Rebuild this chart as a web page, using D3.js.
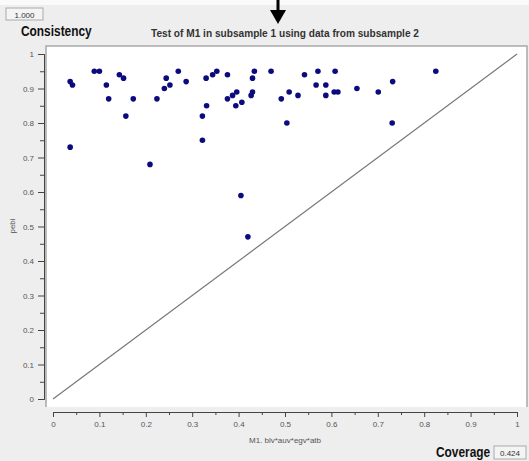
<!DOCTYPE html>
<html>
<head>
<meta charset="utf-8">
<script src="https://cdn.jsdelivr.net/npm/d3@7/dist/d3.min.js"></script>
<style>
  body { margin: 0; background: #eeeeee; }
  svg { display: block; font-family: "Liberation Sans", Arial, sans-serif; }
  .axis text { font-size: 8px; fill: #555; }
  .axis path, .axis line { stroke: #444; }
</style>
</head>
<body>
<svg id="chart" width="529" height="461"></svg>
<script>
// coverage / consistency pairs
var coverage = [0.037, 0.042, 0.037, 0.089, 0.100, 0.115, 0.120, 0.143, 0.152, 0.157,
                0.173, 0.209, 0.224, 0.240, 0.244, 0.252, 0.270, 0.287, 0.322, 0.322,
                0.330, 0.331, 0.344, 0.353, 0.376, 0.376, 0.387, 0.394, 0.396, 0.405,
                0.407, 0.420, 0.427, 0.430, 0.430, 0.434, 0.470, 0.492, 0.504, 0.509,
                0.528, 0.542, 0.567, 0.571, 0.588, 0.588, 0.606, 0.608, 0.614, 0.655,
                0.701, 0.731, 0.732, 0.825];
var consistency = [0.92, 0.91, 0.73, 0.95, 0.95, 0.91, 0.87, 0.94, 0.93, 0.82,
                   0.87, 0.68, 0.87, 0.90, 0.93, 0.91, 0.95, 0.92, 0.82, 0.75,
                   0.93, 0.85, 0.94, 0.95, 0.94, 0.87, 0.88, 0.85, 0.89, 0.59,
                   0.86, 0.47, 0.88, 0.89, 0.93, 0.95, 0.95, 0.87, 0.80, 0.89,
                   0.88, 0.94, 0.91, 0.95, 0.91, 0.88, 0.89, 0.95, 0.89, 0.90,
                   0.89, 0.80, 0.92, 0.95];
var majorTicks = [0, 0.1, 0.2, 0.3, 0.4, 0.5, 0.6, 0.7, 0.8, 0.9, 1];
var minorTicks = [0.05, 0.15, 0.25, 0.35, 0.45, 0.55, 0.65, 0.75, 0.85, 0.95];
var tickLabels = ["0", "0.1", "0.2", "0.3", "0.4", "0.5", "0.6", "0.7", "0.8", "0.9", "1"];

var title = "Test of M1 in subsample 1 using data from subsample 2";
var xLabel = "M1. blv*auv*egv*atb";
var yLabel = "pebi";
var consVal = "1.000", covVal = "0.424";

var svg = d3.select("#chart");

var x = d3.scaleLinear().domain([0, 1]).range([53, 517]),
    y = d3.scaleLinear().domain([0, 1]).range([399, 54]);

var labelOf = function(d) { return tickLabels[majorTicks.indexOf(d)]; };

// top white strip
svg.append("rect").attr("x", 0).attr("y", 0).attr("width", 529).attr("height", 5).attr("fill", "#fafafa");

// plot panel
svg.append("rect")
    .attr("x", 46).attr("y", 46).attr("width", 481).attr("height", 361)
    .attr("fill", "#fff");
svg.append("path")
    .attr("d", "M46,407V46H527V407")
    .attr("fill", "none").attr("stroke", "#a8a8a8").attr("stroke-width", 1.5);

// y axis
svg.append("g")
    .attr("class", "axis")
    .attr("transform", "translate(44,0)")
    .call(d3.axisLeft(y).tickValues(majorTicks).tickSize(6).tickPadding(4).tickFormat(labelOf));
svg.append("g")
    .attr("class", "axis")
    .attr("transform", "translate(44,0)")
    .call(d3.axisLeft(y).tickValues(minorTicks).tickSize(4).tickSizeOuter(0).tickFormat(""));

// x axis
svg.append("g")
    .attr("class", "axis")
    .attr("transform", "translate(0,412)")
    .call(d3.axisBottom(x).tickValues(majorTicks).tickSize(5).tickPadding(4).tickFormat(labelOf));
svg.append("g")
    .attr("class", "axis")
    .attr("transform", "translate(0,412)")
    .call(d3.axisBottom(x).tickValues(minorTicks).tickSize(3).tickSizeOuter(0).tickFormat(""));

// diagonal
svg.append("line")
    .attr("x1", x(0)).attr("y1", y(0))
    .attr("x2", x(1)).attr("y2", y(1))
    .attr("stroke", "#777").attr("stroke-width", 1.2);

// points
svg.append("g").selectAll("circle")
    .data(coverage)
  .enter().append("circle")
    .attr("cx", function(d) { return x(d); })
    .attr("cy", function(d, i) { return y(consistency[i]); })
    .attr("r", 2.8)
    .attr("fill", "#0b0b7e");

// texts
svg.append("text")
    .attr("x", 285).attr("y", 37)
    .attr("text-anchor", "middle")
    .attr("font-size", 10).attr("font-weight", "bold").attr("fill", "#333")
    .attr("textLength", 268).attr("lengthAdjust", "spacingAndGlyphs")
    .text(title);

svg.append("text")
    .attr("x", 285).attr("y", 443)
    .attr("text-anchor", "middle")
    .attr("font-size", 8).attr("fill", "#555")
    .text(xLabel);

svg.append("text")
    .attr("transform", "translate(15,226) rotate(-90)")
    .attr("text-anchor", "middle")
    .attr("font-size", 8).attr("fill", "#555")
    .text(yLabel);

// narrow bold labels: squeeze horizontally
svg.append("text")
    .attr("transform", "translate(21,36) scale(0.85,1)")
    .attr("font-size", 14).attr("font-weight", "bold").attr("fill", "#111")
    .text("Consistency");

svg.append("text")
    .attr("transform", "translate(436,457) scale(0.85,1)")
    .attr("font-size", 14).attr("font-weight", "bold").attr("fill", "#111")
    .text("Coverage");

// value boxes
svg.append("rect").attr("x", 6).attr("y", 8).attr("width", 37).attr("height", 12)
    .attr("fill", "#f4f4f4").attr("stroke", "#aaa");
svg.append("text").attr("x", 24.5).attr("y", 17.5).attr("text-anchor", "middle")
    .attr("font-size", 8).attr("fill", "#333").text(consVal);

svg.append("rect").attr("x", 494).attr("y", 446).attr("width", 32).attr("height", 13)
    .attr("fill", "#f4f4f4").attr("stroke", "#aaa");
svg.append("text").attr("x", 510).attr("y", 455.5).attr("text-anchor", "middle")
    .attr("font-size", 8).attr("fill", "#333").text(covVal);

// arrow at top
svg.append("line").attr("x1", 278).attr("y1", 0).attr("x2", 278).attr("y2", 12)
    .attr("stroke", "#000").attr("stroke-width", 3);
svg.append("path").attr("d", "M270,10L286,10L278,24Z").attr("fill", "#000");
</script>
</body>
</html>
